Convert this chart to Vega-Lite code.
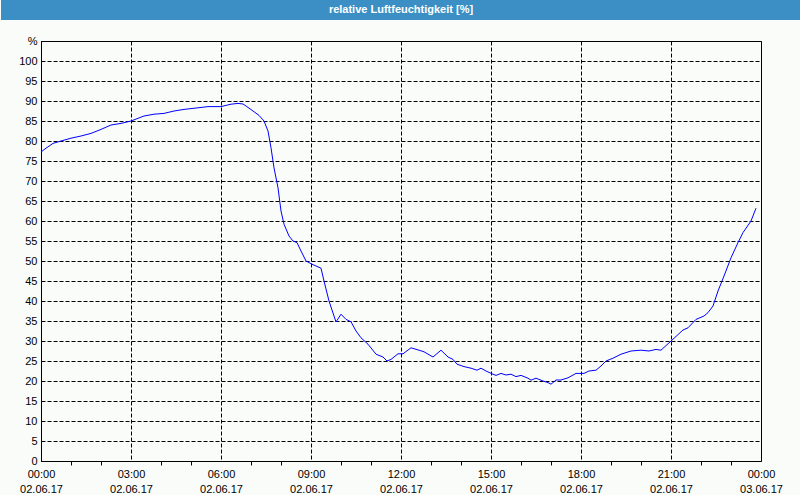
{
  "$schema": "https://vega.github.io/schema/vega-lite/v6.json",
  "background": "#f9fcf9",
  "padding": 0,
  "spacing": 14,
  "config": {
    "font": "Liberation Sans",
    "view": {"stroke": "#000000"}
  },
  "vconcat": [
    {
      "width": 760,
      "height": 20,
      "view": {"stroke": null},
      "data": {"values": [{"title": "relative Luftfeuchtigkeit [%]"}]},
      "layer": [
        {
          "mark": {"type": "rect", "color": "#3c8fc5", "clip": false},
          "encoding": {
            "x": {"datum": 0, "type": "quantitative", "scale": {"domain": [0, 1], "range": [-40, 760]}, "axis": null},
            "x2": {"datum": 1}
          }
        },
        {
          "mark": {"type": "text", "color": "#ffffff", "font": "Liberation Sans", "fontWeight": "bold", "fontSize": 11, "align": "center", "baseline": "middle"},
          "encoding": {
            "x": {"datum": 0.5, "type": "quantitative", "scale": {"domain": [0, 1], "range": [-40, 760]}, "axis": null},
            "text": {"field": "title", "type": "nominal"}
          }
        }
      ]
    },
    {
      "width": 720,
      "height": 420,
      "view": {"fill": "#f9fcf9", "stroke": "#000000", "strokeWidth": 1},
      "data": {"values": [
        {"t": "2017-06-02T00:00", "rh": 77.25},
        {"t": "2017-06-02T00:10", "rh": 78.2},
        {"t": "2017-06-02T00:24", "rh": 79.4},
        {"t": "2017-06-02T00:40", "rh": 80.0},
        {"t": "2017-06-02T01:00", "rh": 80.7},
        {"t": "2017-06-02T01:20", "rh": 81.25},
        {"t": "2017-06-02T01:40", "rh": 81.9},
        {"t": "2017-06-02T02:00", "rh": 82.9},
        {"t": "2017-06-02T02:20", "rh": 84.0},
        {"t": "2017-06-02T02:40", "rh": 84.4},
        {"t": "2017-06-02T03:00", "rh": 85.0},
        {"t": "2017-06-02T03:26", "rh": 86.25},
        {"t": "2017-06-02T03:46", "rh": 86.7},
        {"t": "2017-06-02T04:06", "rh": 86.9},
        {"t": "2017-06-02T04:26", "rh": 87.5},
        {"t": "2017-06-02T04:46", "rh": 87.9},
        {"t": "2017-06-02T05:14", "rh": 88.3},
        {"t": "2017-06-02T05:34", "rh": 88.6},
        {"t": "2017-06-02T06:00", "rh": 88.6},
        {"t": "2017-06-02T06:20", "rh": 89.2},
        {"t": "2017-06-02T06:34", "rh": 89.4},
        {"t": "2017-06-02T06:44", "rh": 89.25},
        {"t": "2017-06-02T06:50", "rh": 88.75},
        {"t": "2017-06-02T07:04", "rh": 87.5},
        {"t": "2017-06-02T07:16", "rh": 86.4},
        {"t": "2017-06-02T07:26", "rh": 85.0},
        {"t": "2017-06-02T07:34", "rh": 82.5},
        {"t": "2017-06-02T07:40", "rh": 78.3},
        {"t": "2017-06-02T07:46", "rh": 73.3},
        {"t": "2017-06-02T07:54", "rh": 68.3},
        {"t": "2017-06-02T08:00", "rh": 62.5},
        {"t": "2017-06-02T08:06", "rh": 59.2},
        {"t": "2017-06-02T08:16", "rh": 56.25},
        {"t": "2017-06-02T08:24", "rh": 55.0},
        {"t": "2017-06-02T08:32", "rh": 54.6},
        {"t": "2017-06-02T08:40", "rh": 52.5},
        {"t": "2017-06-02T08:50", "rh": 50.0},
        {"t": "2017-06-02T09:02", "rh": 49.2},
        {"t": "2017-06-02T09:20", "rh": 48.2},
        {"t": "2017-06-02T09:26", "rh": 45.0},
        {"t": "2017-06-02T09:36", "rh": 40.0},
        {"t": "2017-06-02T09:50", "rh": 34.75},
        {"t": "2017-06-02T10:00", "rh": 36.7},
        {"t": "2017-06-02T10:10", "rh": 35.4},
        {"t": "2017-06-02T10:20", "rh": 34.8},
        {"t": "2017-06-02T10:30", "rh": 32.5},
        {"t": "2017-06-02T10:40", "rh": 30.8},
        {"t": "2017-06-02T10:54", "rh": 29.2},
        {"t": "2017-06-02T11:10", "rh": 26.7},
        {"t": "2017-06-02T11:24", "rh": 26.0},
        {"t": "2017-06-02T11:32", "rh": 25.0},
        {"t": "2017-06-02T11:40", "rh": 25.4},
        {"t": "2017-06-02T11:54", "rh": 26.8},
        {"t": "2017-06-02T12:04", "rh": 26.8},
        {"t": "2017-06-02T12:20", "rh": 28.3},
        {"t": "2017-06-02T12:36", "rh": 27.7},
        {"t": "2017-06-02T12:46", "rh": 27.3},
        {"t": "2017-06-02T13:04", "rh": 26.0},
        {"t": "2017-06-02T13:20", "rh": 27.7},
        {"t": "2017-06-02T13:34", "rh": 26.0},
        {"t": "2017-06-02T13:44", "rh": 25.4},
        {"t": "2017-06-02T13:52", "rh": 24.2},
        {"t": "2017-06-02T14:06", "rh": 23.6},
        {"t": "2017-06-02T14:20", "rh": 23.2},
        {"t": "2017-06-02T14:32", "rh": 22.7},
        {"t": "2017-06-02T14:40", "rh": 23.2},
        {"t": "2017-06-02T14:50", "rh": 22.5},
        {"t": "2017-06-02T15:04", "rh": 21.7},
        {"t": "2017-06-02T15:10", "rh": 21.4},
        {"t": "2017-06-02T15:20", "rh": 21.9},
        {"t": "2017-06-02T15:30", "rh": 21.5},
        {"t": "2017-06-02T15:40", "rh": 21.7},
        {"t": "2017-06-02T15:50", "rh": 21.1},
        {"t": "2017-06-02T16:00", "rh": 21.4},
        {"t": "2017-06-02T16:14", "rh": 20.7},
        {"t": "2017-06-02T16:20", "rh": 20.2},
        {"t": "2017-06-02T16:30", "rh": 20.7},
        {"t": "2017-06-02T16:44", "rh": 20.0},
        {"t": "2017-06-02T16:54", "rh": 19.6},
        {"t": "2017-06-02T17:00", "rh": 19.2},
        {"t": "2017-06-02T17:10", "rh": 20.25},
        {"t": "2017-06-02T17:20", "rh": 20.25},
        {"t": "2017-06-02T17:34", "rh": 20.8},
        {"t": "2017-06-02T17:50", "rh": 21.9},
        {"t": "2017-06-02T18:06", "rh": 21.9},
        {"t": "2017-06-02T18:16", "rh": 22.5},
        {"t": "2017-06-02T18:30", "rh": 22.7},
        {"t": "2017-06-02T18:40", "rh": 23.75},
        {"t": "2017-06-02T18:50", "rh": 25.0},
        {"t": "2017-06-02T19:04", "rh": 25.7},
        {"t": "2017-06-02T19:20", "rh": 26.7},
        {"t": "2017-06-02T19:40", "rh": 27.5},
        {"t": "2017-06-02T20:00", "rh": 27.7},
        {"t": "2017-06-02T20:16", "rh": 27.5},
        {"t": "2017-06-02T20:30", "rh": 27.9},
        {"t": "2017-06-02T20:40", "rh": 27.7},
        {"t": "2017-06-02T21:00", "rh": 30.0},
        {"t": "2017-06-02T21:24", "rh": 32.75},
        {"t": "2017-06-02T21:34", "rh": 33.3},
        {"t": "2017-06-02T21:50", "rh": 35.4},
        {"t": "2017-06-02T22:06", "rh": 36.25},
        {"t": "2017-06-02T22:14", "rh": 37.1},
        {"t": "2017-06-02T22:24", "rh": 38.75},
        {"t": "2017-06-02T22:34", "rh": 42.5},
        {"t": "2017-06-02T22:46", "rh": 46.25},
        {"t": "2017-06-02T23:00", "rh": 50.8},
        {"t": "2017-06-02T23:14", "rh": 54.6},
        {"t": "2017-06-02T23:24", "rh": 57.1},
        {"t": "2017-06-02T23:40", "rh": 60.0},
        {"t": "2017-06-02T23:50", "rh": 63.2}
      ]},
      "mark": {"type": "line", "color": "#0000ff", "strokeWidth": 1},
      "encoding": {
        "x": {
          "field": "t",
          "type": "temporal",
          "scale": {"domain": [{"year": 2017, "month": 6, "date": 2, "hours": 0}, {"year": 2017, "month": 6, "date": 3, "hours": 0}], "nice": false},
          "axis": {
            "title": null,
            "values": [
              {"year": 2017, "month": 6, "date": 2, "hours": 0},
              {"year": 2017, "month": 6, "date": 2, "hours": 1},
              {"year": 2017, "month": 6, "date": 2, "hours": 2},
              {"year": 2017, "month": 6, "date": 2, "hours": 3},
              {"year": 2017, "month": 6, "date": 2, "hours": 4},
              {"year": 2017, "month": 6, "date": 2, "hours": 5},
              {"year": 2017, "month": 6, "date": 2, "hours": 6},
              {"year": 2017, "month": 6, "date": 2, "hours": 7},
              {"year": 2017, "month": 6, "date": 2, "hours": 8},
              {"year": 2017, "month": 6, "date": 2, "hours": 9},
              {"year": 2017, "month": 6, "date": 2, "hours": 10},
              {"year": 2017, "month": 6, "date": 2, "hours": 11},
              {"year": 2017, "month": 6, "date": 2, "hours": 12},
              {"year": 2017, "month": 6, "date": 2, "hours": 13},
              {"year": 2017, "month": 6, "date": 2, "hours": 14},
              {"year": 2017, "month": 6, "date": 2, "hours": 15},
              {"year": 2017, "month": 6, "date": 2, "hours": 16},
              {"year": 2017, "month": 6, "date": 2, "hours": 17},
              {"year": 2017, "month": 6, "date": 2, "hours": 18},
              {"year": 2017, "month": 6, "date": 2, "hours": 19},
              {"year": 2017, "month": 6, "date": 2, "hours": 20},
              {"year": 2017, "month": 6, "date": 2, "hours": 21},
              {"year": 2017, "month": 6, "date": 2, "hours": 22},
              {"year": 2017, "month": 6, "date": 2, "hours": 23},
              {"year": 2017, "month": 6, "date": 3, "hours": 0}
            ],
            "labelExpr": "hours(datum.value) % 3 == 0 ? [timeFormat(datum.value, '%H:%M'), timeFormat(datum.value, '%d.%m.%y')] : ''",
            "labelFont": "Liberation Sans",
            "labelFontSize": 11,
            "labelColor": "#000000",
            "labelLineHeight": 15,
            "labelPadding": 3,
            "labelFlush": false,
            "domainColor": "#000000",
            "tickColor": "#000000",
            "tickSize": 4,
            "tickOpacity": {"condition": {"test": "hours(datum.value) % 3 == 0", "value": 0}, "value": 1},
            "grid": true,
            "gridColor": "#000000",
            "gridDash": [4, 2],
            "gridOpacity": {"condition": {"test": "hours(datum.value) % 3 == 0", "value": 1}, "value": 0}
          }
        },
        "y": {
          "field": "rh",
          "type": "quantitative",
          "scale": {"domain": [0, 105], "nice": false},
          "axis": {
            "title": null,
            "values": [0, 5, 10, 15, 20, 25, 30, 35, 40, 45, 50, 55, 60, 65, 70, 75, 80, 85, 90, 95, 100, 105],
            "labelExpr": "datum.value == 105 ? '%' : datum.label",
            "labelFont": "Liberation Sans",
            "labelFontSize": 11,
            "labelColor": "#000000",
            "labelPadding": 4,
            "ticks": false,
            "minExtent": 40,
            "maxExtent": 40,
            "domainColor": "#000000",
            "grid": true,
            "gridColor": "#000000",
            "gridDash": [4, 2]
          }
        }
      }
    }
  ]
}
